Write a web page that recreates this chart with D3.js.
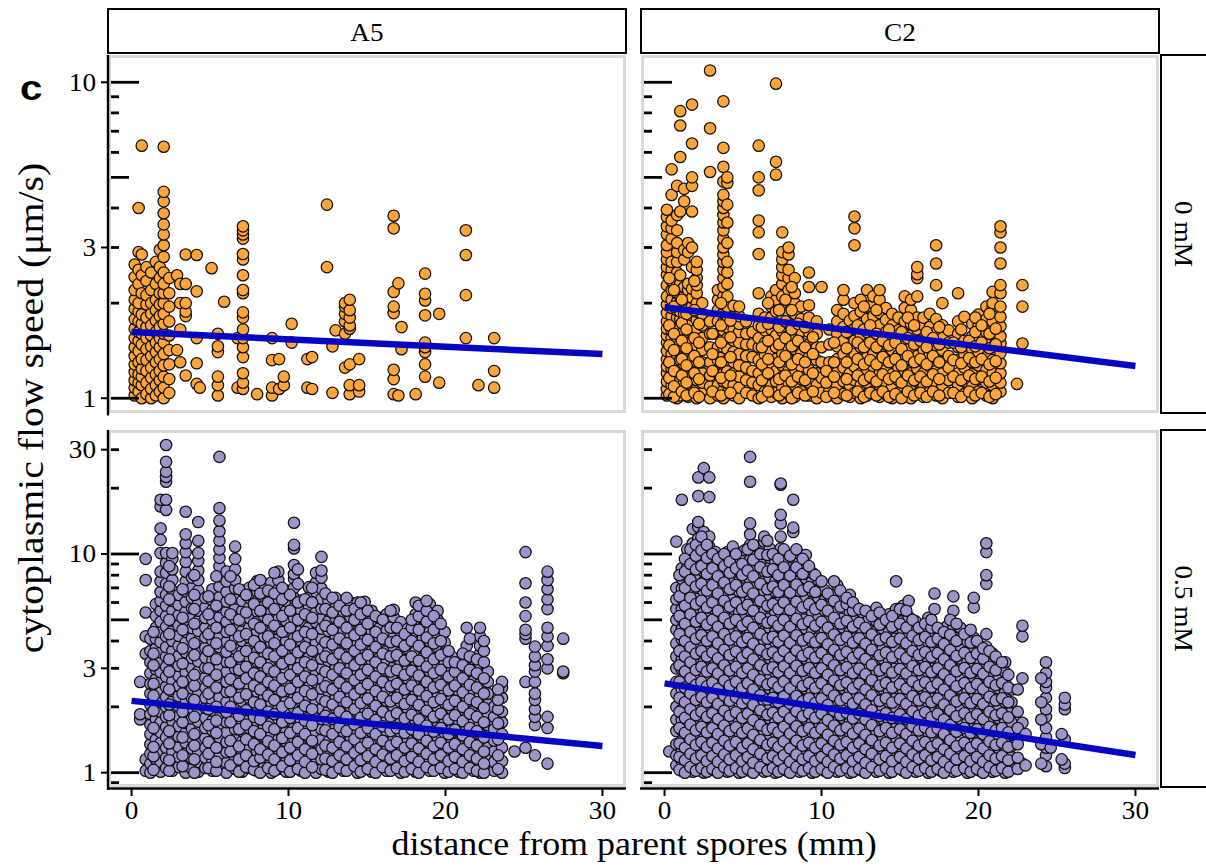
<!DOCTYPE html>
<head>
  <meta charset="utf-8">
  <script src="https://d3js.org/d3.v7.min.js"></script>
  <style>
    body { margin:0; background:#fff; }
    svg { display:block; }
  </style>
</head>
<body>
<svg width="1206" height="867"></svg>

<script>
  // ---- data ----
  var strains = ["A5", "C2"];
  var doses   = ["0 mM", "0.5 mM"];
  var xTicks  = [0, 10, 20, 30];
  var yTicks  = [[1, 3, 10], [1, 3, 10, 30]];

  // fitted line, value at 0 mm and at 30 mm
  var fitA5Ctrl  = [1.62, 1.38];
  var fitC2Ctrl  = [1.94, 1.265];
  var fitA5Treat = [2.13, 1.325];
  var fitC2Treat = [2.56, 1.205];

  // each entry: [distance (mm), speeds measured at that distance]
  var a5Ctrl = [
    [0.2,[1.02,1.08,1.14,1.21,1.28,1.36,1.45,1.55,1.66,1.78,1.92,2.05,2.2,2.42,2.65]],
    [0.45,[1.05,1.12,1.19,1.3,1.41,1.52,1.62,1.75,1.88,2.0,2.3,2.55,2.9,4.0]],
    [0.65,[1.0,1.1,1.17,1.24,1.33,1.48,1.6,1.72,1.84,2.15,2.45,2.85,6.3]],
    [0.95,[1.03,1.12,1.22,1.32,1.43,1.55,1.68,1.8,1.98,2.12,2.35,2.6]],
    [1.25,[1.0,1.07,1.16,1.25,1.36,1.46,1.58,1.7,1.85,2.0,2.2,2.5]],
    [1.55,[1.02,1.1,1.19,1.3,1.4,1.5,1.62,1.76,1.9,2.05,2.3,2.7]],
    [1.8,[1.05,1.14,1.22,1.33,1.45,1.55,1.68,1.82,1.98,2.15,2.4,2.6,2.95]],
    [2.05,[1.0,1.08,1.17,1.27,1.38,1.5,1.6,1.72,1.85,2.0,2.15,2.3,2.5,2.8,3.05,3.3,3.55,3.85,4.2,4.5,6.25]],
    [2.4,[1.04,1.15,1.28,1.42,1.58,1.75,1.95,2.15,2.4]],
    [2.9,[1.42,2.45]],
    [3.1,[1.3,1.65,2.0,2.3]],
    [3.45,[1.18,1.82,1.88,2.0,2.3,2.85]],
    [4.15,[1.11,1.29,1.55,2.18,2.84]],
    [4.35,[1.08]],
    [5.1,[2.58]],
    [5.5,[1.02,1.1,1.17,1.4,1.46,1.6]],
    [5.9,[2.02]],
    [6.75,[1.08,1.55]],
    [7.1,[1.07,1.12,1.2,1.35,1.45,1.55,1.65,1.8,1.87,2.15,2.2,2.45,2.75,2.86,3.2,3.3,3.4,3.5]],
    [8.0,[1.03]],
    [8.95,[1.02,1.08,1.32,1.55]],
    [9.4,[1.07,1.33]],
    [9.7,[1.1,1.17]],
    [10.2,[1.5,1.72]],
    [11.2,[1.08,1.33]],
    [11.5,[1.07,1.35]],
    [12.45,[2.6,4.1]],
    [12.8,[1.04,1.46]],
    [13.0,[1.64]],
    [13.6,[1.25,1.6,1.75,1.85,1.95,2.0]],
    [13.9,[1.03,1.1,1.28,1.66,1.7,1.8,1.9,2.05]],
    [14.5,[1.05,1.1,1.33]],
    [16.7,[1.03,1.15,1.23,1.86,1.95,2.17,3.45,3.78]],
    [17.0,[1.02,2.31]],
    [17.2,[1.43,1.68]],
    [18.1,[1.03]],
    [18.7,[1.17,1.28,1.4,1.45,1.5,1.83,2.04,2.14,2.48]],
    [19.6,[1.12,1.85]],
    [21.3,[1.55,2.12,2.84,3.4]],
    [22.1,[1.1]],
    [23.1,[1.08,1.22,1.55]]
  ];

  var c2Ctrl = [
    [0.15,[1.02,1.07,1.13,1.2,1.26,1.33,1.41,1.5,1.58,1.66,1.75,1.86,1.98,2.1,2.28,2.46,2.6,2.75,2.9,3.05,3.3,3.5,3.75,3.95]],
    [0.45,[1.04,1.1,1.17,1.24,1.3,1.38,1.46,1.55,1.64,1.72,1.82,1.93,2.05,2.2,2.35,2.55,2.7,3.2,3.45,3.65,4.4,5.3]],
    [0.8,[1.0,1.06,1.12,1.19,1.27,1.35,1.44,1.52,1.62,1.7,1.8,1.9,2.02,2.15,2.3,2.5,2.7,2.9,3.1,3.4,3.8,4.7]],
    [1.0,[1.02,1.09,1.16,1.23,1.32,1.4,1.49,1.58,1.68,1.78,1.88,2.0,2.12,2.3,2.45,3.9,5.8,7.3,8.1]],
    [1.25,[1.05,1.12,1.2,1.28,1.36,1.45,1.54,1.64,1.75,1.85,1.97,2.1,2.25,2.75,2.95,4.2,4.6]],
    [1.5,[1.01,1.08,1.15,1.22,1.3,1.39,1.48,1.58,1.68,1.8,1.92,2.05,2.2,2.3,2.9,3.1]],
    [1.75,[1.03,1.1,1.17,1.25,1.33,1.42,1.52,1.62,1.72,1.83,1.95,2.08,2.22,2.6,3.0,3.9,4.7,5.0,6.4,8.5]],
    [2.05,[1.0,1.07,1.14,1.22,1.3,1.38,1.47,1.56,1.66,1.77,1.88,2.0,2.15,2.28,2.4,2.55,2.7]],
    [2.4,[1.04,1.12,1.2,1.3,1.42,1.55,1.7,1.85,2.0]],
    [2.9,[1.0,1.09,1.18,1.3,1.45,1.6,1.75,5.2,7.15,10.9]],
    [3.4,[1.02,1.1,1.2,1.32,1.45,1.6,1.75,1.9,2.05,2.2]],
    [3.75,[1.0,1.06,1.13,1.2,1.28,1.36,1.45,1.54,1.64,1.75,1.86,1.98,2.1,2.25,2.4,2.55,2.7,2.85,3.0,3.2,3.4,3.6,3.8,4.0,4.2,4.4,4.85,5.4,6.2,8.7]],
    [4.0,[1.04,1.12,1.22,1.32,1.43,1.55,1.68,1.82,1.95,2.1,2.3,2.5,2.7,3.1,3.6,4.1,4.8,5.0]],
    [4.4,[1.02,1.1,1.2,1.3,1.4,1.52,1.65,1.8,1.96]],
    [4.75,[1.0,1.08,1.17,1.27,1.38,1.5,1.62,1.72,1.82,1.95]],
    [5.2,[1.04,1.14,1.25,1.36,1.48,1.6,1.75]],
    [5.6,[1.02,1.12,1.22,1.35,1.48,1.62]],
    [6.0,[1.0,1.1,1.2,1.32,1.45,1.55,1.7,1.85,2.15,2.86,3.35,3.65,4.55,5.0,6.3]],
    [6.4,[1.05,1.15,1.25,1.37,1.5,1.64,1.8]],
    [6.8,[1.01,1.1,1.19,1.29,1.4,1.52,1.65,1.8,1.95,2.1]],
    [7.1,[1.04,1.13,1.22,1.33,1.45,1.58,1.72,1.88,2.05,2.2,5.1,5.6,9.9]],
    [7.5,[1.0,1.08,1.17,1.27,1.38,1.5,1.63,1.77,1.92,2.1,2.3,2.45,2.6,2.75,2.9,3.35]],
    [7.9,[1.03,1.12,1.22,1.33,1.45,1.58,1.72,1.87,2.03,2.2,2.4,2.55,2.85,3.0]],
    [8.3,[1.01,1.1,1.2,1.31,1.43,1.56,1.7,1.85,2.0,2.15,2.4]],
    [8.7,[1.05,1.15,1.26,1.38,1.5,1.63,1.78,1.95]],
    [9.2,[1.02,1.12,1.23,1.35,1.48,1.62,1.8,1.97,2.25,2.5]],
    [9.7,[1.0,1.1,1.2,1.32,1.45,1.6,1.75]],
    [10.0,[1.04,1.16,1.3,1.45,2.25]],
    [10.5,[1.02,1.06,1.15,1.3,1.48,1.65]],
    [11.0,[1.0,1.1,1.21,1.33,1.46,1.6,1.75,1.9]],
    [11.4,[1.03,1.13,1.25,1.38,1.52,1.68,1.85,2.05,2.2]],
    [11.8,[1.01,1.1,1.2,1.32,1.45,1.6,1.76]],
    [12.1,[1.04,1.14,1.26,1.38,1.52,1.66,1.82,2.0,3.05,3.45,3.76]],
    [12.5,[1.0,1.1,1.2,1.32,1.45,1.58,1.72,1.88,2.05]],
    [12.9,[1.02,1.12,1.23,1.35,1.48,1.62,1.78,1.95,2.2]],
    [13.3,[1.05,1.15,1.26,1.38,1.52,1.66,1.82,2.0,2.1]],
    [13.7,[1.01,1.1,1.2,1.31,1.43,1.56,1.7,1.86,2.05,2.2]],
    [14.1,[1.03,1.12,1.23,1.35,1.48,1.62,1.77,1.93]],
    [14.5,[1.0,1.09,1.19,1.3,1.42,1.55,1.7,1.85]],
    [14.9,[1.04,1.14,1.25,1.37,1.5,1.64,1.8]],
    [15.3,[1.02,1.12,1.22,1.34,1.46,1.6,1.75,1.93,2.1]],
    [15.7,[1.0,1.1,1.2,1.32,1.45,1.58,1.72,1.9,2.05]],
    [16.1,[1.03,1.13,1.24,1.36,1.5,1.65,1.8,2.1,2.4,2.47,2.6]],
    [16.5,[1.01,1.1,1.2,1.3,1.42,1.55,1.7,1.8]],
    [16.9,[1.05,1.15,1.26,1.38,1.52,1.68,1.85]],
    [17.3,[1.02,1.12,1.22,1.34,1.47,1.62,1.78,2.28,2.67,3.05]],
    [17.7,[1.0,1.1,1.2,1.3,1.42,1.55,1.7,2.0]],
    [18.1,[1.04,1.14,1.25,1.36,1.5,1.64]],
    [18.7,[1.01,1.1,1.2,1.32,1.45,1.6,1.75,2.15]],
    [19.1,[1.03,1.13,1.25,1.38,1.52,1.81]],
    [19.6,[1.0,1.09,1.19,1.3,1.43,1.57,1.72]],
    [20.0,[1.05,1.15,1.27,1.4,1.49,1.57,1.69,1.84]],
    [20.5,[1.02,1.12,1.23,1.35,1.48,1.62,1.78,1.95]],
    [20.9,[1.0,1.1,1.2,1.32,1.45,1.6,1.75,1.95,2.0,2.17]],
    [21.4,[1.05,1.12,1.2,1.29,1.39,1.49,1.57,1.69,1.81,1.95,2.15,2.28,2.67,3.0,3.35,3.5]],
    [22.45,[1.11]],
    [22.8,[1.49,1.95,2.28]]
  ];

  // second pass over the same panel, read between the columns above
  var c2CtrlExtra = [
    [0.3,[1.03,1.16,1.3,1.47,1.7,2.4]],
    [0.6,[1.01,1.09,1.22,1.42,1.6,1.95,2.2]],
    [1.1,[1.05,1.18,1.33,1.52,1.73,2.05]],
    [1.4,[1.02,1.12,1.27,1.44,1.65,1.85]],
    [1.9,[1.04,1.2,1.36,1.55,1.9,2.35]],
    [2.2,[1.01,1.15,1.3,1.5,1.72]],
    [3.05,[1.05,1.22,1.38,1.6]],
    [3.6,[1.02,1.16,1.3,1.5,1.7,2.0]],
    [4.2,[1.04,1.18,1.35,1.56,1.76]],
    [6.2,[1.01,1.14,1.28,1.45,1.68]],
    [6.6,[1.05,1.2,1.33,1.52,1.72,2.0]],
    [7.3,[1.02,1.15,1.3,1.48,1.68,1.9]],
    [7.7,[1.05,1.18,1.36,1.55,1.75,2.05]],
    [8.1,[1.0,1.13,1.28,1.46,1.65,1.9,2.25]],
    [8.5,[1.04,1.17,1.33,1.52,1.72]],
    [8.95,[1.02,1.14,1.3,1.45,1.68]],
    [9.45,[1.05,1.2,1.38,1.56]],
    [10.3,[1.01,1.12,1.22]],
    [10.8,[1.04,1.17,1.3,1.5]],
    [11.6,[1.02,1.15,1.3,1.44,1.62]],
    [12.3,[1.05,1.18,1.33,1.5,1.7]],
    [12.7,[1.01,1.14,1.28,1.45,1.65,1.95]],
    [13.1,[1.04,1.17,1.32,1.5,1.7]],
    [13.5,[1.02,1.13,1.28,1.45,1.6,1.9]],
    [13.9,[1.05,1.19,1.35,1.52]],
    [14.3,[1.01,1.15,1.3,1.47,1.65]],
    [14.7,[1.03,1.17,1.33,1.5]],
    [15.1,[1.0,1.12,1.27,1.43,1.62]],
    [15.5,[1.05,1.18,1.36,1.55,1.8]],
    [15.9,[1.02,1.14,1.3,1.48,1.7]],
    [16.3,[1.04,1.17,1.33,1.52]],
    [16.7,[1.01,1.13,1.28,1.45,1.62]],
    [17.1,[1.05,1.19,1.36,1.55]],
    [17.5,[1.02,1.15,1.3,1.48,1.68]],
    [18.4,[1.04,1.17,1.32,1.5]],
    [18.9,[1.01,1.14,1.29,1.45,1.65]],
    [19.4,[1.05,1.18,1.34,1.52]],
    [19.8,[1.02,1.15,1.3,1.46,1.62,1.8]],
    [20.2,[1.04,1.17,1.33,1.5,1.7]],
    [20.7,[1.01,1.13,1.28,1.44,1.6,1.85]],
    [21.1,[1.03,1.16,1.31,1.48,1.66]]
  ];

  var a5Treat = [
    [0.55,[1.75,1.85,2.6]],
    [0.9,[1.02,1.15,3.5,4.2,5.4,7.6,9.5]],
    [1.2,[1.0,1.1,1.22,1.35,1.5,1.66,1.85,2.05,2.3,2.55,2.85,3.2,3.6,4.1]],
    [1.55,[1.04,1.15,1.28,1.42,1.58,1.76,1.95,2.17,2.4,2.68,2.97,3.3,3.7,4.1,4.6,5.2,5.9]],
    [1.85,[1.01,1.12,1.24,1.37,1.53,1.7,1.9,2.1,2.33,2.6,2.88,3.2,3.55,3.95,4.4,4.9,5.5,6.1,6.7,7.5,8.3,10.1,11.6,13.1,16.5,17.7]],
    [2.2,[1.05,1.17,1.3,1.45,1.62,1.8,2.0,2.22,2.47,2.75,3.05,3.4,3.75,4.2,4.65,5.2,5.8,6.5,7.3,8.2,9.1,10.1,15.9,17.7,21.4,22.5,23.8,26.4,31.5]],
    [2.6,[1.02,1.13,1.25,1.39,1.55,1.72,1.91,2.12,2.36,2.62,2.92,3.25,3.6,4.0,4.45,4.95,5.5,6.1,6.8,7.6,8.5,9.5,10.1]],
    [3.0,[1.06,1.18,1.31,1.46,1.63,1.81,2.01,2.24,2.49,2.77,3.08,3.42,3.8,4.22,4.7,5.25,5.85,6.5]],
    [3.45,[1.0,1.11,1.23,1.37,1.52,1.69,1.88,2.09,2.32,2.58,2.87,3.19,3.55,3.94,4.4,4.9,5.45,6.05,6.75,7.5,8.3,9.2,10.2,11.2,12.3,15.6]],
    [3.85,[1.04,1.16,1.29,1.43,1.59,1.77,1.97,2.19,2.43,2.7,3.0,3.34,3.71,4.12,4.58,5.1,5.65,6.3,7.0,7.8]],
    [4.25,[1.01,1.12,1.25,1.39,1.54,1.71,1.9,2.12,2.35,2.62,2.91,3.23,3.6,4.0,4.45,4.95,5.5,6.1,6.8,7.6,8.4,9.3,10.1,11.5,14.0]],
    [4.7,[1.05,1.17,1.3,1.44,1.6,1.78,1.98,2.2,2.45,2.72,3.02,3.36,3.73,4.15,4.6,5.1,5.7,6.3]],
    [5.15,[1.02,1.13,1.26,1.4,1.56,1.73,1.92,2.14,2.38,2.64,2.94,3.26,3.63,4.03,4.48,4.98,5.55,6.15,6.9]],
    [5.6,[1.06,1.18,1.31,1.45,1.61,1.79,1.99,2.21,2.46,2.73,3.04,3.38,3.75,4.17,4.63,5.15,5.72,6.36,7.1,7.9,8.8,9.6,10.5,11.5,12.7,14.2,16.2,27.8]],
    [6.05,[1.0,1.11,1.24,1.38,1.53,1.7,1.89,2.1,2.34,2.6,2.89,3.21,3.57,3.97,4.4,4.9,5.45,6.05,6.7,7.5,8.3]],
    [6.6,[1.04,1.15,1.28,1.42,1.58,1.76,1.96,2.18,2.42,2.69,2.99,3.32,3.69,4.1,4.56,5.07,5.63,6.26,6.96,7.6,8.5,9.5,10.8]],
    [7.05,[1.01,1.13,1.25,1.39,1.55,1.72,1.91,2.12,2.36,2.62,2.92,3.24,3.6,4.0,4.45,4.95,5.5,6.1,6.8]],
    [7.5,[1.05,1.16,1.29,1.44,1.6,1.78,1.98,2.2,2.44,2.71,3.02,3.35,3.72,4.14,4.6,5.1,5.7,6.3,7.0]],
    [8.0,[1.02,1.12,1.25,1.39,1.54,1.71,1.9,2.11,2.35,2.61,2.9,3.22,3.58,3.98,4.42,4.92,5.47,6.08,6.75,7.5]],
    [8.45,[1.06,1.18,1.31,1.46,1.62,1.8,2.0,2.23,2.48,2.75,3.06,3.4,3.78,4.2,4.67,5.19,5.77,6.4,7.1]],
    [8.9,[1.0,1.11,1.23,1.37,1.52,1.69,1.88,2.09,2.32,2.58,2.87,3.19,3.54,3.93,4.37,4.86,5.4,6.0,6.65,7.4]],
    [9.35,[1.04,1.15,1.28,1.42,1.58,1.76,1.95,2.17,2.41,2.68,2.98,3.31,3.68,4.09,4.54,5.05,5.6,6.23,6.9,7.6,8.3]],
    [9.85,[1.01,1.12,1.25,1.39,1.54,1.72,1.91,2.12,2.36,2.62,2.91,3.24,3.6,4.0,4.44,4.94,5.49,6.1,6.8]],
    [10.35,[1.05,1.17,1.3,1.44,1.6,1.78,1.98,2.2,2.44,2.71,3.01,3.35,3.72,4.13,4.59,5.1,5.67,6.3,7.0,7.7,8.1,8.9,10.6,11.0,13.9]],
    [10.8,[1.02,1.13,1.26,1.4,1.55,1.73,1.92,2.13,2.37,2.63,2.93,3.25,3.62,4.02,4.47,4.96,5.52,6.13]],
    [11.3,[1.06,1.18,1.31,1.45,1.61,1.79,1.99,2.21,2.46,2.73,3.04,3.37,3.75,4.16,4.63,5.14,5.71,6.35,7.05]],
    [11.75,[1.0,1.11,1.24,1.38,1.53,1.7,1.89,2.1,2.33,2.59,2.88,3.2,3.56,3.95,4.39,4.88,5.42,6.03,6.7,7.4,8.2]],
    [12.1,[1.04,1.15,1.28,1.42,1.58,1.76,1.96,2.18,2.42,2.69,2.99,3.32,3.69,4.1,4.55,5.06,5.62,6.25,6.95,7.8,8.4,9.7]],
    [12.55,[1.01,1.13,1.25,1.39,1.55,1.72,1.91,2.12,2.36,2.62,2.91,3.24,3.6,4.0,4.45,4.94,5.49,6.1]],
    [13.0,[1.05,1.16,1.29,1.44,1.6,1.78,1.98,2.2,2.44,2.71,3.01,3.35,3.72,4.13,4.6,5.1,5.68,6.3]],
    [13.5,[1.02,1.12,1.25,1.39,1.54,1.71,1.9,2.11,2.35,2.61,2.9,3.22,3.58,3.98,4.42,4.91,5.46]],
    [13.95,[1.06,1.18,1.31,1.46,1.62,1.8,2.0,2.22,2.47,2.74,3.05,3.39,3.76,4.18,4.65,5.16,5.74,6.0]],
    [14.4,[1.0,1.11,1.23,1.37,1.52,1.69,1.88,2.09,2.32,2.58,2.87,3.19,3.54,3.93,4.37,4.86,5.4,6.0]],
    [14.85,[1.04,1.15,1.28,1.42,1.58,1.76,1.95,2.17,2.41,2.68,2.98,3.31,3.68,4.09,4.54,5.05,5.6,6.05]],
    [15.3,[1.01,1.12,1.25,1.39,1.54,1.72,1.91,2.12,2.36,2.62,2.91,3.24,3.6,4.0,4.44,4.94,5.5]],
    [15.8,[1.05,1.17,1.3,1.44,1.6,1.78,1.98,2.2,2.44,2.71,3.01,3.35,3.72,4.13,4.59,5.1]],
    [16.25,[1.02,1.13,1.26,1.4,1.55,1.73,1.92,2.13,2.37,2.63,2.93,3.25,3.62,4.02,4.47,4.96,5.3]],
    [16.7,[1.06,1.18,1.31,1.45,1.61,1.79,1.99,2.21,2.46,2.73,3.04,3.37,3.75,4.16,4.63,5.14,5.55]],
    [17.15,[1.0,1.11,1.24,1.38,1.53,1.7,1.89,2.1,2.33,2.59,2.88,3.2,3.56,3.95,4.39,4.88]],
    [17.6,[1.04,1.15,1.28,1.42,1.58,1.76,1.96,2.18,2.42,2.69,2.99,3.32,3.69,4.1,4.55]],
    [18.1,[1.01,1.13,1.25,1.39,1.55,1.72,1.91,2.12,2.36,2.62,2.91,3.24,3.6,4.0,4.45,4.94,5.3,6.0]],
    [18.55,[1.05,1.16,1.29,1.44,1.6,1.78,1.98,2.2,2.44,2.71,3.01,3.35,3.72,4.13,4.6,5.1,5.6]],
    [19.0,[1.02,1.12,1.25,1.39,1.54,1.71,1.9,2.11,2.35,2.61,2.9,3.22,3.58,3.98,4.42,4.91,5.45,5.9]],
    [19.5,[1.06,1.18,1.31,1.46,1.62,1.8,2.0,2.22,2.47,2.74,3.05,3.39,3.76,4.18,4.6,5.0,5.5]],
    [19.95,[1.0,1.11,1.23,1.37,1.52,1.69,1.88,2.09,2.32,2.58,2.87,3.19,3.54,3.93,4.4]],
    [20.4,[1.04,1.15,1.28,1.42,1.58,1.76,1.95,2.17,2.41,2.68,2.98,3.4]],
    [20.85,[1.01,1.12,1.25,1.39,1.54,1.72,1.91,2.12,2.36,2.62,2.91,3.2]],
    [21.35,[1.05,1.17,1.3,1.44,1.6,1.78,1.98,2.2,2.44,2.71,3.01,3.4,3.8,4.6]],
    [21.8,[1.02,1.13,1.26,1.4,1.55,1.73,1.92,2.13,2.37,2.63,2.93,3.3]],
    [22.2,[1.0,1.1,1.22,1.36,1.5,1.67,1.85,2.06,2.29,2.55,2.83,3.15,3.5,3.8,4.2,4.6]],
    [22.7,[1.04,1.16,1.3,1.48,1.65,1.85,2.05,2.3,2.6,2.9]],
    [23.1,[1.02,1.12,1.25,1.4,1.58,1.8,2.0]],
    [23.6,[1.0,1.13,1.3,1.5,1.7,1.9,2.2,2.45,2.6]],
    [24.4,[1.25]],
    [25.1,[1.3,2.6,4.1,4.3,4.5,5.2,6.0,7.35,10.2]],
    [25.7,[1.2,1.65,1.8,1.95,2.15,2.3,2.6,2.9,3.1,3.4,3.77]],
    [26.5,[1.1,1.6,1.8,3.0,3.3,3.8,4.2,4.6,5.6,6.2,6.9,7.6,8.3]],
    [27.5,[2.85,2.9,4.1]]
  ];

  var a5TreatExtra = [
    [1.4,[1.03,1.19,1.31,1.6,1.92,2.25,2.55,3.1,3.5,4.4]],
    [2.4,[1.02,1.14,1.36,1.55,1.83,2.05,2.4,2.9,3.3,4.3,5.0,6.2,7.1,8.8]],
    [3.25,[1.07,1.2,1.45,1.7,1.9,2.3,2.6,3.15,3.7,4.5,5.1,6.9]],
    [4.0,[1.0,1.15,1.33,1.5,1.8,2.15,2.5,2.8,3.45,3.9,4.8,5.6,6.5,8.0]],
    [4.9,[1.05,1.22,1.38,1.65,1.95,2.3,2.62,3.0,3.6,4.3,5.3,6.4]],
    [5.4,[1.02,1.12,1.3,1.52,1.73,2.0,2.45,2.8,3.3,3.9,4.6,5.8,7.9]],
    [6.3,[1.08,1.25,1.4,1.7,2.0,2.35,2.68,3.2,3.8,4.5,5.3,6.2,7.9]],
    [6.85,[1.01,1.15,1.32,1.58,1.82,2.2,2.55,2.95,3.4,4.2,5.0,6.9]],
    [7.3,[1.06,1.2,1.42,1.66,1.93,2.28,2.7,3.05,3.6,4.3,5.4,6.5]],
    [7.8,[1.03,1.13,1.35,1.55,1.8,2.1,2.5,2.85,3.35,4.0,4.8,5.9,7.2]],
    [8.2,[1.0,1.17,1.28,1.5,1.75,2.05,2.4,2.75,3.2,3.75,4.6,5.5,6.6,7.6]],
    [8.7,[1.05,1.21,1.39,1.62,1.9,2.25,2.6,3.0,3.5,4.2,5.0,6.0,6.8]],
    [9.1,[1.02,1.15,1.33,1.58,1.85,2.15,2.5,2.9,3.4,3.9,4.7,5.6,6.6,8.2]],
    [9.6,[1.07,1.24,1.44,1.7,2.0,2.35,2.7,3.15,3.6,4.4,5.2,6.2,7.0]],
    [10.1,[1.01,1.14,1.3,1.52,1.78,2.08,2.42,2.8,3.3,3.85,4.6,5.5,6.5]],
    [10.6,[1.04,1.2,1.38,1.6,1.88,2.2,2.6,3.0,3.55,4.2,5.0,6.0,7.3,8.5]],
    [11.05,[1.0,1.12,1.28,1.5,1.73,2.02,2.36,2.75,3.2,3.75,4.4,5.3,6.2]],
    [11.5,[1.06,1.22,1.4,1.65,1.95,2.28,2.65,3.1,3.6,4.3,5.1,6.0,7.0]],
    [12.35,[1.03,1.16,1.33,1.56,1.82,2.12,2.48,2.9,3.4,3.95,4.7,5.6,6.6]],
    [12.8,[1.0,1.13,1.3,1.5,1.76,2.05,2.4,2.8,3.3,3.85,4.5,5.4,6.3]],
    [13.25,[1.05,1.2,1.38,1.62,1.9,2.22,2.58,3.0,3.5,4.1,4.9,5.8]],
    [13.7,[1.02,1.15,1.32,1.55,1.8,2.1,2.45,2.85,3.35,3.9,4.6,5.5,6.3]],
    [14.2,[1.07,1.23,1.42,1.66,1.95,2.28,2.65,3.1,3.6,4.25,5.0,5.6]],
    [14.6,[1.01,1.14,1.3,1.52,1.78,2.08,2.42,2.8,3.3,3.85,4.5,5.3,6.0]],
    [15.05,[1.04,1.19,1.37,1.6,1.86,2.18,2.54,2.95,3.45,4.05,4.8,5.5]],
    [15.55,[1.0,1.12,1.28,1.5,1.74,2.02,2.36,2.75,3.2,3.75,4.4,5.2]],
    [16.0,[1.06,1.21,1.4,1.63,1.9,2.22,2.6,3.0,3.5,4.1,5.0]],
    [16.5,[1.02,1.16,1.33,1.55,1.81,2.12,2.48,2.9,3.4,3.95,4.6,5.5]],
    [16.9,[1.05,1.2,1.38,1.6,1.87,2.2,2.55,2.95,3.45,4.0,4.6]],
    [17.4,[1.01,1.13,1.3,1.52,1.77,2.06,2.4,2.8,3.25,3.8,4.3]],
    [17.85,[1.04,1.18,1.36,1.58,1.84,2.15,2.5,2.92,3.4,4.0,4.6,5.0]],
    [18.3,[1.0,1.12,1.29,1.5,1.75,2.04,2.38,2.78,3.25,3.8,4.5,5.2,5.8]],
    [18.8,[1.06,1.22,1.4,1.64,1.92,2.24,2.6,3.05,3.55,4.15,4.9,5.5,6.1]],
    [19.25,[1.02,1.15,1.32,1.54,1.8,2.1,2.45,2.85,3.3,3.9,4.5,5.2]],
    [19.7,[1.05,1.2,1.37,1.6,1.86,2.17,2.52,2.95,3.45,4.0,4.8]],
    [20.2,[1.01,1.13,1.3,1.5,1.75,2.04,2.38,2.75,3.2,3.6]],
    [20.6,[1.04,1.18,1.35,1.57,1.83,2.13,2.5,2.9,3.2]],
    [21.1,[1.0,1.12,1.28,1.48,1.72,2.0,2.33,2.7,3.1,3.5]],
    [21.55,[1.05,1.2,1.38,1.6,1.86,2.17,2.52,2.95,3.4,4.1]],
    [22.0,[1.02,1.16,1.33,1.55,1.8,2.1,2.45,2.85,3.3]],
    [22.45,[1.0,1.1,1.25,1.45,1.7,1.98,2.3,2.7,3.2,3.6,4.0]],
    [23.35,[1.04,1.2,1.42,1.68,1.95,2.15,2.4]]
  ];

  var c2Treat = [
    [0.3,[1.25]],
    [0.75,[1.08,1.2,1.35,1.55,1.75,2.0,2.3,2.6,3.0,3.4,3.9,4.5,5.0,5.6,6.2,7.0,11.4]],
    [1.1,[1.02,1.13,1.25,1.4,1.56,1.74,1.94,2.16,2.4,2.67,2.97,3.3,3.67,4.08,4.54,5.05,5.6,6.25,6.95,7.7,8.6,17.7]],
    [1.45,[1.05,1.17,1.3,1.45,1.61,1.79,1.99,2.21,2.45,2.73,3.03,3.37,3.75,4.17,4.63,5.15,5.72,6.36,7.07,7.86,8.74,9.7,10.5]],
    [1.8,[1.01,1.12,1.24,1.38,1.54,1.71,1.9,2.11,2.35,2.61,2.9,3.22,3.58,3.98,4.43,4.92,5.47,6.08,6.76,7.5,8.35,9.3,10.3,11.2,13.0]],
    [2.15,[1.04,1.16,1.29,1.43,1.59,1.77,1.97,2.19,2.43,2.7,3.0,3.34,3.71,4.13,4.59,5.1,5.67,6.3,7.0,7.8,8.65,9.6,10.7,11.8,13.3,14.0,18.4,22.4]],
    [2.5,[1.0,1.11,1.24,1.37,1.53,1.7,1.89,2.1,2.33,2.59,2.88,3.2,3.56,3.96,4.4,4.89,5.44,6.05,6.72,7.47,8.3,9.2,10.3,11.4,12.6,24.7]],
    [2.85,[1.05,1.17,1.3,1.44,1.6,1.78,1.98,2.2,2.45,2.72,3.02,3.36,3.73,4.15,4.61,5.13,5.7,6.33,7.04,7.83,8.7,9.65,10.8,12.0,18.2,22.4]],
    [3.25,[1.02,1.13,1.26,1.4,1.56,1.73,1.93,2.14,2.38,2.65,2.94,3.27,3.64,4.04,4.49,5.0,5.55,6.17,6.86,7.63,8.5,9.4,10.2]],
    [3.6,[1.06,1.18,1.31,1.46,1.62,1.8,2.0,2.23,2.48,2.75,3.06,3.4,3.78,4.2,4.67,5.19,5.77,6.4,7.13,7.9,8.8,9.6]],
    [4.0,[1.01,1.12,1.25,1.39,1.54,1.71,1.9,2.11,2.35,2.61,2.9,3.23,3.59,3.99,4.43,4.93,5.48,6.09,6.77,7.52,8.36,9.3,10.2]],
    [4.35,[1.04,1.15,1.28,1.42,1.58,1.76,1.96,2.17,2.42,2.69,2.99,3.32,3.69,4.1,4.56,5.07,5.63,6.26,6.96,7.74,8.6,9.55,10.8]],
    [4.75,[1.0,1.11,1.24,1.38,1.53,1.7,1.89,2.1,2.34,2.6,2.89,3.21,3.57,3.97,4.41,4.9,5.45,6.06,6.74,7.5,8.3,9.2]],
    [5.1,[1.05,1.17,1.3,1.44,1.6,1.78,1.98,2.2,2.44,2.71,3.02,3.35,3.73,4.14,4.6,5.12,5.69,6.32,7.03,7.8,8.7,9.6,10.4]],
    [5.45,[1.02,1.13,1.25,1.39,1.55,1.72,1.92,2.13,2.37,2.63,2.93,3.26,3.62,4.02,4.47,4.97,5.52,6.14,6.83,7.6,8.45,9.4,10.5,11.0,12.3,13.8,21.4,27.8]],
    [5.85,[1.06,1.18,1.31,1.45,1.62,1.8,2.0,2.22,2.47,2.74,3.05,3.39,3.77,4.19,4.65,5.17,5.75,6.4,7.1,7.9,8.8,9.8,10.9]],
    [6.35,[1.01,1.12,1.24,1.38,1.54,1.71,1.9,2.11,2.35,2.61,2.9,3.22,3.58,3.98,4.43,4.92,5.47,6.08,6.76,7.51,8.35,9.3,10.3,11.4,12.0]],
    [6.7,[1.04,1.16,1.29,1.43,1.59,1.77,1.97,2.19,2.43,2.7,3.0,3.34,3.71,4.13,4.59,5.1,5.67,6.3,7.0,7.8,8.7,9.6,10.6]],
    [7.05,[1.0,1.11,1.24,1.37,1.53,1.7,1.89,2.1,2.33,2.59,2.88,3.2,3.56,3.96,4.4,4.89,5.44,6.05,6.72,7.47,8.3,9.2]],
    [7.4,[1.05,1.17,1.3,1.44,1.6,1.78,1.98,2.2,2.45,2.72,3.02,3.36,3.73,4.15,4.61,5.13,5.7,6.33,7.04,7.83,8.7,9.7,10.6,12.0,13.8,15.1,20.7,21.0]],
    [7.8,[1.02,1.13,1.26,1.4,1.56,1.73,1.93,2.14,2.38,2.65,2.94,3.27,3.64,4.04,4.49,5.0,5.55,6.17,6.86,7.63,8.5,9.3]],
    [8.2,[1.06,1.18,1.31,1.46,1.62,1.8,2.0,2.23,2.48,2.75,3.06,3.4,3.78,4.2,4.67,5.19,5.77,6.4,7.13,7.9,8.8,9.6,12.6,13.2,17.7]],
    [8.6,[1.01,1.12,1.25,1.39,1.54,1.71,1.9,2.11,2.35,2.61,2.9,3.23,3.59,3.99,4.43,4.93,5.48,6.09,6.77,7.52,8.36,9.3,10.0]],
    [9.0,[1.04,1.15,1.28,1.42,1.58,1.76,1.96,2.17,2.42,2.69,2.99,3.32,3.69,4.1,4.56,5.07,5.63,6.26,6.96,7.74,8.6,9.9]],
    [9.4,[1.0,1.11,1.24,1.38,1.53,1.7,1.89,2.1,2.34,2.6,2.89,3.21,3.57,3.97,4.41,4.9,5.45,6.06,6.74,7.5,8.2]],
    [9.8,[1.05,1.17,1.3,1.44,1.6,1.78,1.98,2.2,2.44,2.71,3.02,3.35,3.73,4.14,4.6,5.12,5.69,6.32,6.8,7.6]],
    [10.2,[1.02,1.13,1.25,1.39,1.55,1.72,1.92,2.13,2.37,2.63,2.93,3.26,3.62,4.02,4.47,4.97,5.52,6.14,6.83]],
    [10.55,[1.06,1.18,1.31,1.45,1.62,1.8,2.0,2.22,2.47,2.74,3.05,3.39,3.77,4.19,4.65,5.17,5.75,5.95,6.4]],
    [11.0,[1.01,1.12,1.24,1.38,1.54,1.71,1.9,2.11,2.35,2.61,2.9,3.22,3.58,3.98,4.43,4.92,5.47,6.08,6.76,7.2]],
    [11.4,[1.04,1.16,1.29,1.43,1.59,1.77,1.97,2.19,2.43,2.7,3.0,3.34,3.71,4.13,4.59,5.1,5.67,6.3]],
    [11.8,[1.0,1.11,1.24,1.37,1.53,1.7,1.89,2.1,2.33,2.59,2.88,3.2,3.56,3.96,4.4,4.89,5.44,6.05,6.5]],
    [12.2,[1.05,1.17,1.3,1.44,1.6,1.78,1.98,2.2,2.45,2.72,3.02,3.36,3.73,4.15,4.61,5.13,5.7]],
    [12.6,[1.02,1.13,1.26,1.4,1.56,1.73,1.93,2.14,2.38,2.65,2.94,3.27,3.64,4.04,4.49,5.0,5.4]],
    [13.0,[1.06,1.18,1.31,1.46,1.62,1.8,2.0,2.23,2.48,2.75,3.06,3.4,3.78,4.2,4.67,5.0]],
    [13.5,[1.01,1.12,1.25,1.39,1.54,1.71,1.9,2.11,2.35,2.61,2.9,3.23,3.59,3.99,4.43,4.93,5.67]],
    [13.9,[1.04,1.15,1.28,1.42,1.58,1.76,1.96,2.17,2.42,2.69,2.99,3.32,3.69,4.1,4.56,5.07]],
    [14.3,[1.0,1.11,1.24,1.38,1.53,1.7,1.89,2.1,2.34,2.6,2.89,3.21,3.57,3.97,4.41,4.9,5.3]],
    [14.75,[1.05,1.17,1.3,1.44,1.6,1.78,1.98,2.2,2.44,2.71,3.02,3.35,3.73,4.14,4.6,5.12,5.6,7.5]],
    [15.2,[1.02,1.13,1.25,1.39,1.55,1.72,1.92,2.13,2.37,2.63,2.93,3.26,3.62,4.02,4.47,4.97,5.52,5.8]],
    [15.55,[1.06,1.18,1.31,1.45,1.62,1.8,2.0,2.22,2.47,2.74,3.05,3.39,3.77,4.19,4.65,5.17,6.1]],
    [16.0,[1.01,1.12,1.24,1.38,1.54,1.71,1.9,2.11,2.35,2.61,2.9,3.22,3.58,3.98,4.43,4.92]],
    [16.4,[1.04,1.16,1.29,1.43,1.59,1.77,1.97,2.19,2.43,2.7,3.0,3.34,3.71,4.13,4.59]],
    [16.8,[1.0,1.11,1.24,1.37,1.53,1.7,1.89,2.1,2.33,2.59,2.88,3.2,3.56,3.96,4.4,5.1]],
    [17.2,[1.05,1.17,1.3,1.44,1.6,1.78,1.98,2.2,2.45,2.72,3.02,3.36,3.73,4.15,4.61,5.6,6.6]],
    [17.6,[1.02,1.13,1.26,1.4,1.56,1.73,1.93,2.14,2.38,2.65,2.94,3.27,3.64,4.04,4.49]],
    [18.0,[1.06,1.18,1.31,1.46,1.62,1.8,2.0,2.23,2.48,2.75,3.06,3.4,3.78,4.2,4.67]],
    [18.4,[1.01,1.12,1.25,1.39,1.54,1.71,1.9,2.11,2.35,2.61,2.9,3.23,3.59,3.99,4.6,5.5,6.4]],
    [18.85,[1.04,1.15,1.28,1.42,1.58,1.76,1.96,2.17,2.42,2.69,2.99,3.32,3.69,4.1,4.6]],
    [19.3,[1.0,1.11,1.24,1.38,1.53,1.7,1.89,2.1,2.34,2.6,2.89,3.21,3.57,3.97]],
    [19.7,[1.05,1.17,1.3,1.44,1.6,1.78,1.98,2.2,2.44,2.71,3.02,3.35,3.73,4.14,5.7,6.3]],
    [20.1,[1.02,1.13,1.25,1.39,1.55,1.72,1.92,2.13,2.37,2.63,2.93,3.26,3.62]],
    [20.5,[1.06,1.18,1.31,1.45,1.62,1.8,2.0,2.22,2.47,2.74,3.05,3.39,3.77,4.3,7.3,8.0,10.2,11.2]],
    [20.9,[1.01,1.12,1.24,1.38,1.54,1.71,1.9,2.11,2.35,2.61,2.9,3.22,3.5]],
    [21.3,[1.04,1.16,1.29,1.43,1.59,1.77,1.97,2.19,2.43,2.7,3.0]],
    [21.7,[1.0,1.11,1.24,1.37,1.53,1.7,1.89,2.1,2.33,2.59,2.88,3.2]],
    [22.1,[1.05,1.18,1.32,1.5,1.7,1.9,2.1,2.4]],
    [22.8,[1.1,1.69,2.7,4.2,4.7]],
    [24.3,[1.07,1.2,1.3,1.45,1.6,1.8,1.95,2.2,2.45,2.6,2.85,3.2]],
    [25.5,[1.05,1.1,1.42,1.95,2.05,2.2]]
  ];

  var c2TreatExtra = [
    [0.95,[1.03,1.18,1.36,1.6,1.9,2.2,2.6,3.1,3.6,4.3,5.2,6.4,8.0]],
    [1.3,[1.0,1.14,1.3,1.52,1.78,2.1,2.45,2.9,3.4,4.0,4.8,5.8,7.0,8.3,9.5]],
    [1.65,[1.06,1.22,1.42,1.66,1.95,2.3,2.7,3.2,3.75,4.4,5.3,6.3,7.6,9.0,10.5]],
    [2.0,[1.02,1.16,1.34,1.56,1.83,2.15,2.52,2.95,3.5,4.1,4.9,5.9,7.1,8.5,9.8,11.0]],
    [2.35,[1.05,1.2,1.38,1.62,1.9,2.22,2.6,3.05,3.6,4.25,5.1,6.1,7.3,8.8,10.4,12.0]],
    [2.7,[1.01,1.13,1.31,1.53,1.8,2.1,2.48,2.9,3.4,4.0,4.75,5.7,6.8,8.1,9.6,11.0]],
    [3.05,[1.04,1.19,1.37,1.6,1.87,2.2,2.58,3.0,3.55,4.2,5.0,6.0,7.2,8.6,10.0]],
    [3.4,[1.0,1.12,1.29,1.5,1.76,2.06,2.42,2.84,3.33,3.9,4.65,5.5,6.6,7.9,9.5]],
    [3.8,[1.06,1.21,1.4,1.64,1.92,2.25,2.64,3.1,3.65,4.3,5.1,6.1,7.4,8.8,10.0]],
    [4.15,[1.02,1.15,1.33,1.55,1.82,2.13,2.5,2.93,3.45,4.05,4.8,5.75,6.9,8.2,9.2]],
    [4.55,[1.05,1.2,1.38,1.61,1.89,2.21,2.6,3.05,3.58,4.2,5.0,6.0,7.2,8.6,10.0]],
    [4.95,[1.01,1.13,1.3,1.52,1.78,2.08,2.44,2.86,3.36,3.95,4.7,5.6,6.7,8.0,9.0]],
    [5.3,[1.04,1.18,1.36,1.59,1.86,2.18,2.56,3.0,3.52,4.13,4.9,5.85,7.0,8.4,10.5]],
    [5.65,[1.0,1.11,1.28,1.49,1.74,2.04,2.4,2.8,3.3,3.88,4.6,5.5,6.6,7.9,9.4,11.0]],
    [6.1,[1.06,1.22,1.41,1.65,1.93,2.26,2.65,3.1,3.65,4.3,5.1,6.1,7.3,8.7,10.0]],
    [6.55,[1.02,1.16,1.34,1.57,1.84,2.16,2.53,2.97,3.48,4.1,4.85,5.8,6.9,8.3,9.9,11.5]],
    [6.9,[1.05,1.19,1.37,1.6,1.88,2.2,2.58,3.03,3.55,4.18,4.95,5.9,7.1,8.5,10.0]],
    [7.25,[1.01,1.14,1.31,1.53,1.79,2.1,2.46,2.88,3.38,3.97,4.7,5.6,6.7,8.0,9.5]],
    [7.6,[1.04,1.2,1.39,1.62,1.9,2.23,2.61,3.06,3.6,4.23,5.0,6.0,7.2,8.7,10.5]],
    [8.0,[1.0,1.12,1.29,1.51,1.77,2.07,2.43,2.85,3.34,3.92,4.65,5.55,6.65,7.95,9.8]],
    [8.4,[1.06,1.21,1.4,1.63,1.91,2.24,2.63,3.08,3.62,4.25,5.05,6.05,7.25,8.7,10.5]],
    [8.8,[1.02,1.15,1.33,1.55,1.81,2.12,2.49,2.92,3.42,4.02,4.77,5.7,6.8,8.1,9.5]],
    [9.2,[1.05,1.19,1.37,1.6,1.87,2.19,2.57,3.01,3.53,4.15,4.93,5.9,7.05,8.8]],
    [9.6,[1.01,1.13,1.3,1.52,1.78,2.08,2.44,2.86,3.36,3.95,4.7,5.6,6.7,8.0]],
    [10.0,[1.04,1.18,1.36,1.59,1.86,2.18,2.56,3.0,3.52,4.13,4.9,5.85,7.5]],
    [10.4,[1.0,1.12,1.28,1.49,1.74,2.04,2.39,2.8,3.29,3.86,4.6,5.5,6.6]],
    [10.8,[1.06,1.21,1.4,1.64,1.92,2.25,2.64,3.1,3.64,4.28,5.1,6.1,7.5]],
    [11.2,[1.02,1.16,1.34,1.56,1.83,2.14,2.51,2.94,3.45,4.05,4.8,5.75,6.8]],
    [11.6,[1.05,1.2,1.38,1.61,1.88,2.2,2.58,3.03,3.56,4.18,4.95,5.9,6.3]],
    [12.0,[1.01,1.13,1.3,1.51,1.77,2.07,2.43,2.85,3.35,3.93,4.65,5.5,6.0]],
    [12.4,[1.04,1.18,1.36,1.59,1.86,2.18,2.55,2.99,3.51,4.12,4.85,5.6]],
    [12.8,[1.0,1.11,1.28,1.49,1.75,2.05,2.4,2.82,3.31,3.88,4.6,5.5]],
    [13.2,[1.06,1.22,1.41,1.65,1.93,2.26,2.65,3.11,3.65,4.28,5.2]],
    [13.7,[1.02,1.15,1.33,1.55,1.82,2.13,2.5,2.93,3.44,4.04,4.75,5.4]],
    [14.1,[1.05,1.19,1.37,1.6,1.87,2.19,2.57,3.02,3.54,4.15,5.0]],
    [14.5,[1.01,1.13,1.3,1.52,1.78,2.09,2.45,2.87,3.37,3.96,4.65,5.2]],
    [15.0,[1.04,1.18,1.36,1.58,1.85,2.17,2.54,2.98,3.5,4.1,4.8,5.6]],
    [15.4,[1.0,1.12,1.29,1.5,1.76,2.06,2.42,2.84,3.33,3.9,4.6,5.5]],
    [15.8,[1.06,1.21,1.4,1.63,1.91,2.24,2.62,3.07,3.6,4.22,5.0]],
    [16.2,[1.02,1.16,1.33,1.56,1.82,2.14,2.5,2.94,3.45,4.04,4.6]],
    [16.6,[1.05,1.2,1.38,1.61,1.89,2.21,2.59,3.04,3.56,4.17,4.8]],
    [17.0,[1.01,1.14,1.31,1.53,1.79,2.1,2.46,2.88,3.38,3.96,4.6,5.0]],
    [17.4,[1.04,1.18,1.36,1.59,1.86,2.18,2.56,3.0,3.52,4.1,4.6]],
    [17.8,[1.0,1.12,1.28,1.5,1.75,2.05,2.4,2.82,3.3,3.87,4.4]],
    [18.2,[1.06,1.22,1.41,1.65,1.93,2.26,2.65,3.1,3.64,4.27,5.0]],
    [18.6,[1.02,1.15,1.32,1.54,1.81,2.12,2.48,2.91,3.41,4.0,4.8]],
    [19.1,[1.05,1.19,1.37,1.6,1.87,2.19,2.57,3.01,3.53,4.3]],
    [19.5,[1.01,1.13,1.3,1.52,1.78,2.08,2.44,2.86,3.35,3.93,4.5]],
    [19.9,[1.04,1.18,1.36,1.58,1.85,2.17,2.54,2.98,3.5,4.0]],
    [20.3,[1.0,1.12,1.29,1.5,1.76,2.06,2.41,2.83,3.32,3.7]],
    [20.7,[1.06,1.2,1.39,1.62,1.9,2.22,2.6,3.05,3.6]],
    [21.1,[1.02,1.16,1.34,1.56,1.83,2.14,2.51,2.94,3.4]],
    [21.5,[1.05,1.19,1.37,1.6,1.87,2.19,2.57,3.2]],
    [21.9,[1.01,1.14,1.31,1.53,1.79,2.1,2.45,2.8]],
    [22.5,[1.04,1.17,1.35,1.6,1.9,2.4]],
    [23.0,[1.08,1.5]],
    [24.0,[1.1,1.35,1.75,2.1,2.7]],
    [24.6,[1.3]],
    [25.3,[1.15,1.5]]
  ];

  // ---- layout ----
  var svg = d3.select("svg");
  var serif = "'Liberation Serif', 'Times New Roman', Times, serif";
  var stretch = 1.09;          // the figure's lettering runs a bit wide
  var colX = [[108, 626], [641, 1159]];
  var rowY = [[55, 413], [430, 787]];
  var yDomains = [[0.898, 12.2], [0.86, 36.9]];
  var fills = ["#ffa53a", "#9d95c9"];

  var panels = [
    {col: 0, row: 0, data: a5Ctrl,                       fit: fitA5Ctrl},
    {col: 1, row: 0, data: c2Ctrl.concat(c2CtrlExtra),   fit: fitC2Ctrl},
    {col: 0, row: 1, data: a5Treat.concat(a5TreatExtra), fit: fitA5Treat},
    {col: 1, row: 1, data: c2Treat.concat(c2TreatExtra), fit: fitC2Treat}
  ];

  function label(g, x, y, str, size, opt) {
    opt = opt || {};
    var tr = "translate(" + x + "," + y + ")";
    if (opt.rotate) tr += " rotate(" + opt.rotate + ")";
    tr += " scale(" + (opt.sx || stretch) + ",1)";
    return g.append("text")
      .attr("transform", tr)
      .style("font-family", opt.family || serif)
      .style("font-weight", opt.weight || "normal")
      .style("font-size", size + "px")
      .attr("text-anchor", opt.anchor || "middle")
      .attr("fill", "#000")
      .text(str);
  }

  var defs = svg.append("defs");

  panels.forEach(function(p, i) {
    var x = d3.scaleLinear().domain([-1.5, 31.5]).range(colX[p.col]);
    var y = d3.scaleLog().domain(yDomains[p.row]).range([rowY[p.row][1], rowY[p.row][0]]);
    var x0 = colX[p.col][0], x1 = colX[p.col][1];
    var y0 = rowY[p.row][0], y1 = rowY[p.row][1];

    defs.append("clipPath").attr("id", "clip" + i)
      .append("rect").attr("x", x0).attr("y", y0).attr("width", x1 - x0).attr("height", y1 - y0);

    var g = svg.append("g");
    var inner = g.append("g").attr("clip-path", "url(#clip" + i + ")");

    var pts = p.data.flatMap(function(c) {
      return c[1].map(function(v) { return {x: c[0], y: v}; });
    });

    inner.selectAll("circle")
      .data(pts)
      .enter()
      .append("circle")
      .attr("cx", function(d) { return x(d.x); })
      .attr("cy", function(d) { return y(d.y); })
      .attr("r", 5.7)
      .attr("fill", fills[p.row])
      .attr("stroke", "#111")
      .attr("stroke-width", 1.25);

    inner.append("line")
      .attr("x1", x(0)).attr("y1", y(p.fit[0]))
      .attr("x2", x(30)).attr("y2", y(p.fit[1]))
      .attr("stroke", "#0707c2")
      .attr("stroke-width", 6.5);

    // log ticks inside the panel
    var lt = [];
    [-1, 0, 1].forEach(function(e) {
      d3.range(1, 10).forEach(function(m) {
        var v = m * Math.pow(10, e);
        if (v >= yDomains[p.row][0] && v <= yDomains[p.row][1]) lt.push({v: v, m: m});
      });
    });
    inner.selectAll("line.logtick")
      .data(lt)
      .enter()
      .append("line")
      .attr("class", "logtick")
      .attr("x1", x0)
      .attr("x2", function(d) { return x0 + (d.m === 1 ? 31 : d.m === 5 ? 21 : 11); })
      .attr("y1", function(d) { return y(d.v); })
      .attr("y2", function(d) { return y(d.v); })
      .attr("stroke", "#000")
      .attr("stroke-width", 2.8);

    // panel border
    g.append("rect")
      .attr("x", x0 + 1.5).attr("y", y0 + 1.5)
      .attr("width", x1 - x0 - 3).attr("height", y1 - y0 - 3)
      .attr("fill", "none")
      .attr("stroke", "#d9d9d9")
      .attr("stroke-width", 3);

    // y axis on the left column only
    if (p.col === 0) {
      g.append("line")
        .attr("x1", x0).attr("x2", x0)
        .attr("y1", y0).attr("y2", y1 + 2.5)
        .attr("stroke", "#000").attr("stroke-width", 2.4);
      yTicks[p.row].forEach(function(t) {
        g.append("line")
          .attr("x1", x0 - 7).attr("x2", x0)
          .attr("y1", y(t)).attr("y2", y(t))
          .attr("stroke", "#000").attr("stroke-width", 2);
        label(g, x0 - 12, y(t) + 8.3, String(t), 25, {anchor: "end"});
      });
    }

    // x axis on the bottom row only
    if (p.row === 1) {
      g.append("line")
        .attr("x1", x0 - 1).attr("x2", x1)
        .attr("y1", y1 + 1.5).attr("y2", y1 + 1.5)
        .attr("stroke", "#000").attr("stroke-width", 2.6);
      xTicks.forEach(function(t) {
        g.append("line")
          .attr("x1", x(t)).attr("x2", x(t))
          .attr("y1", y1 + 2).attr("y2", y1 + 9)
          .attr("stroke", "#000").attr("stroke-width", 2);
        label(g, x(t), 819, String(t), 25);
      });
    }
  });

  // strips
  strains.forEach(function(s, c) {
    svg.append("rect")
      .attr("x", colX[c][0]).attr("y", 9)
      .attr("width", colX[c][1] - colX[c][0]).attr("height", 44)
      .attr("fill", "#fff").attr("stroke", "#000").attr("stroke-width", 2);
    label(svg, (colX[c][0] + colX[c][1]) / 2, 40.5, s, 25);
  });
  doses.forEach(function(s, r) {
    svg.append("rect")
      .attr("x", 1161).attr("y", rowY[r][0])
      .attr("width", 46).attr("height", rowY[r][1] - rowY[r][0])
      .attr("fill", "#fff").attr("stroke", "#000").attr("stroke-width", 2);
    label(svg, 1174.5, (rowY[r][0] + rowY[r][1]) / 2, s, 25, {rotate: 90});
  });

  // titles
  label(svg, 634, 855, "distance from parent spores (mm)", 33);
  label(svg, 43, 408, "cytoplasmic flow speed (\u03bcm/s)", 36.5, {rotate: -90});
  label(svg, 20, 100, "c", 35, {anchor: "start", family: "'Liberation Sans', Arial, sans-serif", weight: "bold", sx: 1.15});
</script>
</body>
